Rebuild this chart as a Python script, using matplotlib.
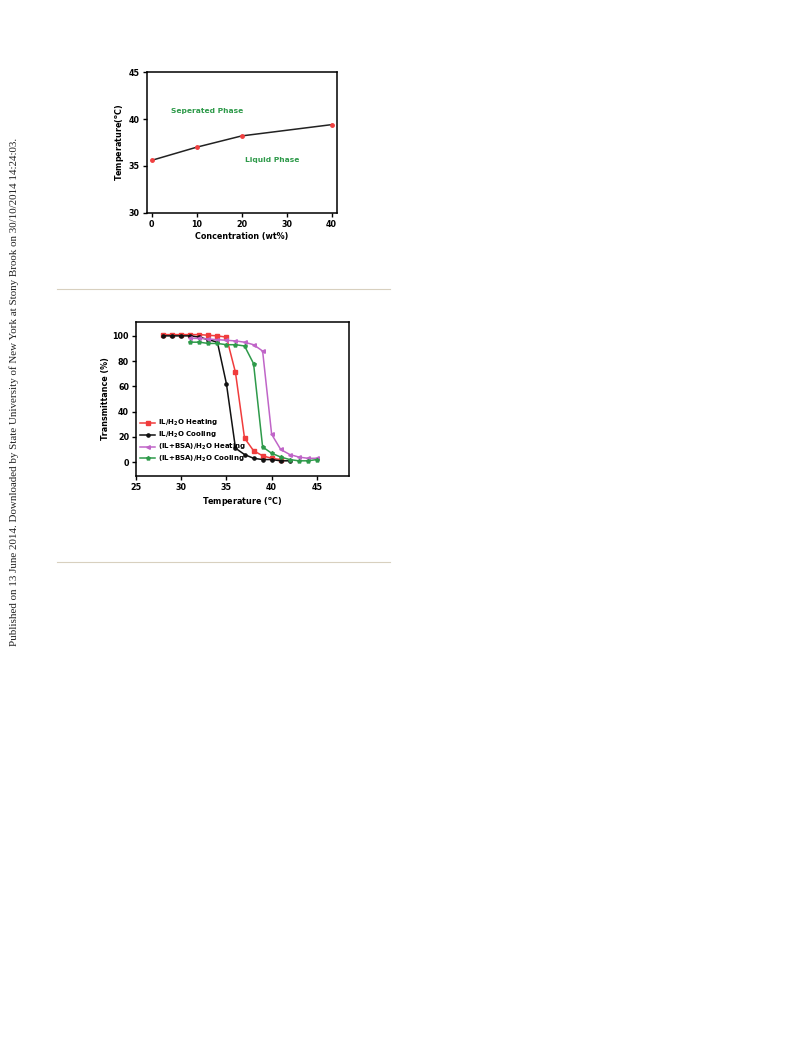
import numpy as np
import matplotlib.pyplot as plt

# top panel: phase diagram
conc = [0, 10, 20, 40]
t_phase = [35.6, 37.0, 38.2, 39.4]

# bottom panel: transmittance curves
t_red = [28, 29, 30, 31, 32, 33, 34, 35, 36, 37, 38, 39, 40, 41]
y_red = [101, 101, 101, 101, 101, 100.5, 100, 99, 71, 19, 9, 5, 3, 2]
t_blk = [28, 29, 30, 31, 32, 33, 34, 35, 36, 37, 38, 39, 40, 41, 42]
y_blk = [100, 100, 100, 100, 99, 97, 95, 62, 11, 6, 3, 2, 2, 1, 1]
t_pur = [31, 32, 33, 34, 35, 36, 37, 38, 39, 40, 41, 42, 43, 44, 45]
y_pur = [98, 98, 97.5, 97, 96.5, 96, 95, 93, 88, 22, 10, 6, 4, 3, 3]
t_grn = [31, 32, 33, 34, 35, 36, 37, 38, 39, 40, 41, 42, 43, 44, 45]
y_grn = [95, 95, 94, 94, 93, 93, 92, 78, 12, 7, 4, 2, 1, 1, 2]

fig = plt.figure(figsize=(7.93, 10.39), dpi=100)

def style(ax):
    for s in ax.spines.values():
        s.set_linewidth(1.1)
    ax.tick_params(direction='out', length=3, width=1, labelsize=5.8, pad=2)
    for lab in ax.get_xticklabels() + ax.get_yticklabels():
        lab.set_fontweight('bold')

ax1 = fig.add_axes([0.185, 0.795, 0.240, 0.1357])
ax1.plot(conc, t_phase, color='#222222', lw=1.1, zorder=2)
ax1.plot(conc, t_phase, ls='none', marker='o', ms=2.5, color='#f04040', zorder=3)
ax1.set_xlim(-1.1, 41.2)
ax1.set_ylim(30, 45)
ax1.set_xticks([0, 10, 20, 30, 40])
ax1.set_yticks([30, 35, 40, 45])
style(ax1)
ax1.set_xlabel('Concentration (wt%)', fontsize=5.8, fontweight='bold', labelpad=2)
ax1.set_ylabel(r'Temperature($^\mathbf{o}$C)', fontsize=5.8, fontweight='bold', labelpad=2)
ax1.text(12.3, 40.85, 'Seperated Phase', color='#2e9a4a', fontsize=5.4,
         fontweight='bold', ha='center', va='center')
ax1.text(26.8, 35.6, 'Liquid Phase', color='#2e9a4a', fontsize=5.4,
         fontweight='bold', ha='center', va='center')

ax2 = fig.add_axes([0.1715, 0.5419, 0.268, 0.1482])
ax2.plot(t_red, y_red, color='#f03c3c', lw=1.1, marker='s', ms=2.3, label=r'IL/H$_\mathbf{2}$O Heating')
ax2.plot(t_blk, y_blk, color='#111111', lw=1.1, marker='o', ms=2.3, label=r'IL/H$_\mathbf{2}$O Cooling')
ax2.plot(t_pur, y_pur, color='#c065c8', lw=1.1, marker='<', ms=2.6, label=r'(IL+BSA)/H$_\mathbf{2}$O Heating')
ax2.plot(t_grn, y_grn, color='#2e9a4a', lw=1.1, marker='p', ms=2.6, label=r'(IL+BSA)/H$_\mathbf{2}$O Cooling')
ax2.set_xlim(25, 48.5)
ax2.set_ylim(-11, 111)
ax2.set_xticks([25, 30, 35, 40, 45])
ax2.set_yticks([0, 20, 40, 60, 80, 100])
style(ax2)
ax2.set_xlabel(r'Temperature ($^\mathbf{o}$C)', fontsize=5.8, fontweight='bold', labelpad=2)
ax2.set_ylabel('Transmittance (%)', fontsize=5.8, fontweight='bold', labelpad=2)
leg = ax2.legend(loc='lower left', bbox_to_anchor=(0.0, 0.05), frameon=False,
                 prop={'size': 5, 'weight': 'bold'}, handlelength=2.2,
                 handletextpad=0.3, labelspacing=0.25, borderaxespad=0.2)

# separator lines
for yy in [289, 562]:
    fig.add_artist(plt.Line2D([57 / 793, 390 / 793], [1 - yy / 1039, 1 - yy / 1039],
                              color='#d8d0bf', lw=0.8))

fig.text(14 / 793, 1 - 392 / 1039,
         'Published on 13 June 2014. Downloaded by State University of New York at Stony Brook on 30/10/2014 14:24:03.',
         rotation=90, ha='center', va='center', fontsize=7.9,
         family=['Liberation Serif', 'DejaVu Serif'], color='#222222')

fig.savefig('out.png', dpi=100)
